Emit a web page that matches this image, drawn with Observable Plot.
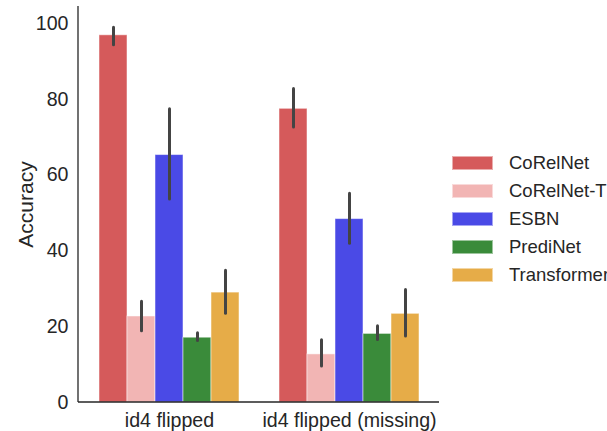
<!DOCTYPE html>
<html>
<head>
<meta charset="utf-8">
<script src="https://cdn.jsdelivr.net/npm/d3@7"></script>
<script src="https://cdn.jsdelivr.net/npm/@observablehq/plot@0.6"></script>
<style>
  html, body { margin: 0; padding: 0; background: #fff; }
  #wrap { position: relative; width: 607px; height: 431px; font-family: "Liberation Sans", Arial, sans-serif; }
  #wrap svg text { font-size: 19.6px !important; font-family: "Liberation Sans", Arial, sans-serif !important; fill: #262626; }
  #wrap svg g.ylabel text { font-size: 21px !important; }
  #legend { position: absolute; left: 452px; top: 149px; }
  .row { display: flex; align-items: center; height: 28px; }
  .sw { width: 39px; height: 12px; border: 1px solid rgba(255,255,255,0.5); box-sizing: content-box; }
  .lb { margin-left: 16px; font-size: 18.5px; color: #262626; white-space: nowrap; }
</style>
</head>
<body>
<div id="wrap"></div>
<script>
const groups = ["id4 flipped", "id4 flipped (missing)"];
const models = ["CoRelNet", "CoRelNet-T", "ESBN", "PrediNet", "Transformer"];
const colors = ["#d55a5b", "#f2b5b4", "#4a4ae6", "#3a8b3a", "#e6ac48"];
// mean accuracy per model, one array per group
const meanFlipped = [96.9, 22.7, 65.3, 17.1, 29.0];
const meanMissing = [77.5, 12.7, 48.4, 18.1, 23.4];
// error bar low / high
const lowFlipped = [94.3, 18.8, 53.6, 16.2, 23.4];
const highFlipped = [98.9, 26.6, 77.4, 18.3, 34.8];
const lowMissing = [72.6, 9.5, 41.9, 16.5, 17.4];
const highMissing = [82.7, 16.4, 55.1, 20.1, 29.7];
const yTicks = [0, 20, 40, 60, 80, 100];

const data = [];
[[meanFlipped, lowFlipped, highFlipped], [meanMissing, lowMissing, highMissing]].forEach(([m, lo, hi], gi) => {
  models.forEach((name, i) => data.push({group: groups[gi], model: name, acc: m[i], lo: lo[i], hi: hi[i]}));
});

const ink = "#262626";
const mL = 96, mR = 186;
const plot = Plot.plot({
  width: 607,
  height: 431,
  marginLeft: mL,
  marginRight: mR,
  marginTop: 6,
  marginBottom: 29,
  style: {fontFamily: "Liberation Sans, Arial, sans-serif", fontSize: "19px", color: ink, background: "white"},
  fx: {domain: groups, paddingInner: 0.2, paddingOuter: 0, label: null, axis: "bottom", tickSize: 0, tickPadding: 11},
  x: {domain: models, padding: 0, axis: null},
  y: {domain: [0, 104.5], ticks: yTicks, tickSize: 0, tickPadding: 29, label: "Accuracy", labelAnchor: "center", labelOffset: 79, labelArrow: "none"},
  color: {domain: models, range: colors},
  marks: [
    Plot.barY(data, {fx: "group", x: "model", y: "acc", fill: "model", stroke: "white", strokeOpacity: 0.5, strokeWidth: 1}),
    Plot.ruleX(data, {fx: "group", x: "model", y1: "lo", y2: "hi", stroke: "#444444", strokeWidth: 3, strokeLinecap: "round"})
  ]
});

// spines drawn from the plot's own scales (half the inner gap outside the groups)
const ys = plot.scale("y");
const fxs = plot.scale("fx");
const outer = (fxs.step - fxs.bandwidth) / 2;
const xL = mL - outer, xR = 607 - mR + outer;
const svg = d3.select(plot);
svg.selectAll("text").filter(function() { return d3.select(this).text() === "Accuracy"; })
  .each(function() { this.parentNode.classList.add("ylabel"); });
svg.append("line")
  .attr("x1", xL).attr("x2", xR)
  .attr("y1", ys.apply(0)).attr("y2", ys.apply(0))
  .attr("stroke", ink).attr("stroke-width", 1.3);
svg.append("line")
  .attr("x1", xL).attr("x2", xL)
  .attr("y1", ys.apply(ys.domain[1])).attr("y2", ys.apply(0))
  .attr("stroke", ink).attr("stroke-width", 1.3);

const wrap = document.getElementById("wrap");
wrap.appendChild(plot);

const legend = document.createElement("div");
legend.id = "legend";
models.forEach((m, i) => {
  const row = document.createElement("div");
  row.className = "row";
  row.innerHTML = `<div class="sw" style="background:${colors[i]}"></div><div class="lb">${m}</div>`;
  legend.appendChild(row);
});
wrap.appendChild(legend);
</script>
</body>
</html>
